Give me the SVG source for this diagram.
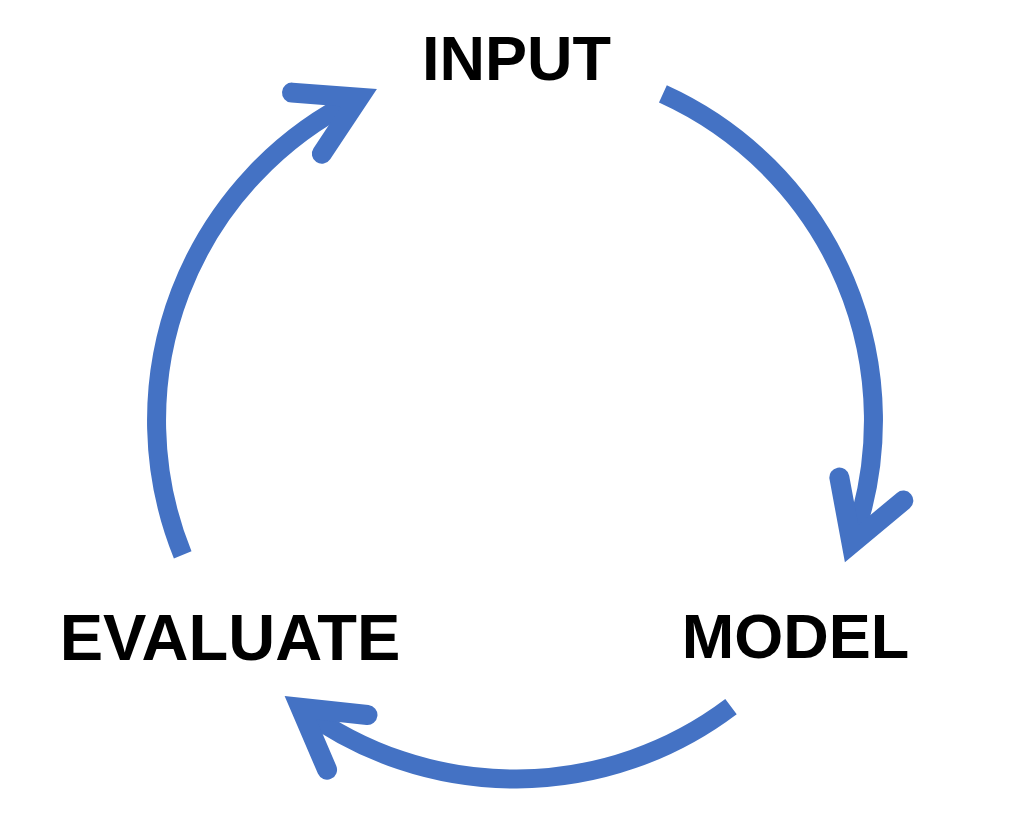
<svg xmlns="http://www.w3.org/2000/svg" width="1024" height="824" viewBox="0 0 1024 824">
  <style>
    .arc { fill: none; stroke: #4472C4; stroke-width: 19; stroke-linecap: butt; }
    .lbl { font-family: "Liberation Sans", Arial, sans-serif; font-weight: bold; font-size: 63px; fill: #000000; text-anchor: middle; }
  </style>
  <defs>
    <marker id="head" markerUnits="userSpaceOnUse" orient="auto" markerWidth="120" markerHeight="120" refX="0" refY="0" viewBox="-70 -60 120 120" overflow="visible">
      <path d="M-56.4,-34 L1.7,0 L-56.4,34" fill="none" stroke="#4472C4" stroke-width="20" stroke-linejoin="miter" stroke-miterlimit="4" stroke-linecap="round"/>
    </marker>
  </defs>
  <rect width="1024" height="824" fill="#ffffff"/>
  <g id="connectors">
    <path class="arc" d="M182.7,554.9 A358.5,358.5 0 0 1 357.6,98.4" marker-end="url(#head)"/>
    <path class="arc" d="M662.9,93.9 A358.5,358.5 0 0 1 852.2,542.1" marker-end="url(#head)"/>
    <path class="arc" d="M731.0,706.6 A358.5,358.5 0 0 1 301.9,708.8" marker-end="url(#head)"/>
  </g>
  <g id="input"><text class="lbl" x="516.5" y="80">INPUT</text></g>
  <g id="model"><text class="lbl" x="795.5" y="658">MODEL</text></g>
  <g id="evaluate"><text class="lbl" x="230" y="660" style="font-size:65px">EVALUATE</text></g>
</svg>
